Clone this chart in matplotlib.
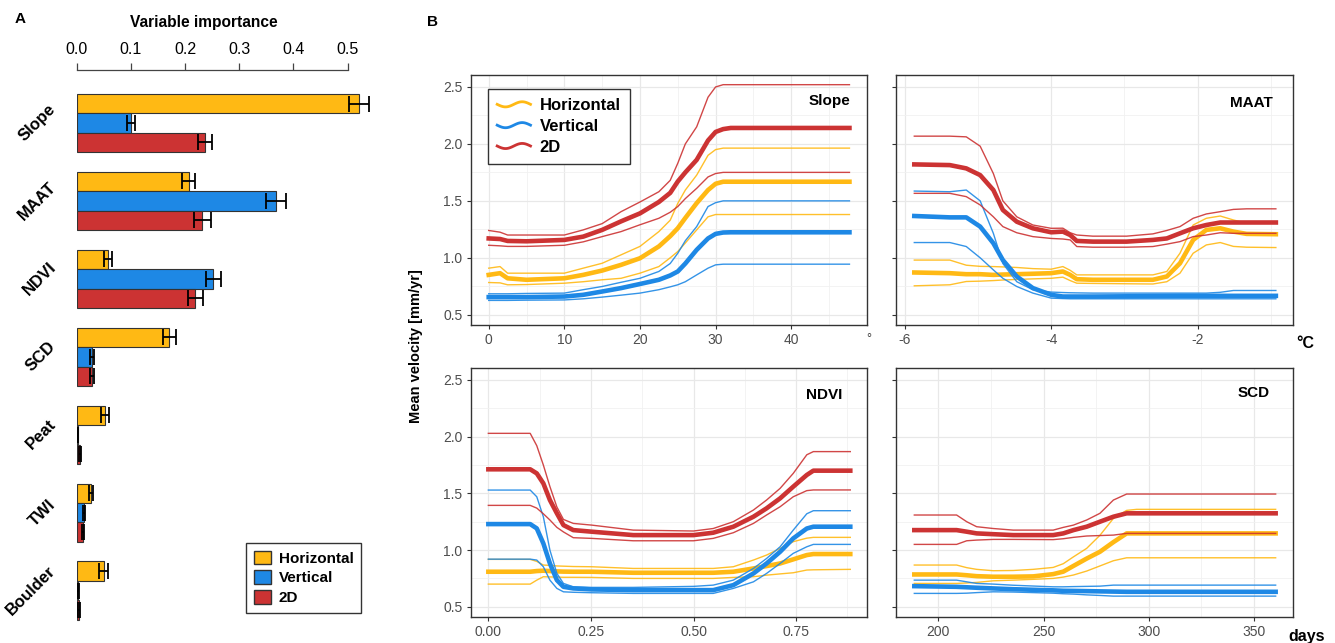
import numpy as np
import matplotlib.pyplot as plt
from matplotlib.lines import Line2D
from matplotlib.patches import Patch
from matplotlib.legend_handler import HandlerLine2D

plt.rcParams['font.family'] = ['Liberation Sans', 'DejaVu Sans']
plt.rcParams['axes.unicode_minus'] = False

W, H = 1335, 643

YELLOW = '#FFB914'
BLUE = '#1E88E5'
RED = '#CC3333'

# ---- panel A: variable importance ----
predictors = ['Slope', 'MAAT', 'NDVI', 'SCD', 'Peat', 'TWI', 'Boulder']
imp_h = [0.521, 0.207, 0.058, 0.171, 0.052, 0.026, 0.050]
imp_v = [0.100, 0.368, 0.252, 0.028, 0.002, 0.013, 0.003]
imp_2d = [0.237, 0.232, 0.219, 0.028, 0.006, 0.012, 0.005]
err_h = [0.019, 0.012, 0.007, 0.012, 0.008, 0.004, 0.008]
err_v = [0.008, 0.019, 0.014, 0.003, 0.001, 0.002, 0.002]
err_2d = [0.013, 0.016, 0.014, 0.003, 0.002, 0.002, 0.002]
imp_ticks = [0.0, 0.1, 0.2, 0.3, 0.4, 0.5]

# ---- panel B: partial dependence (mean, lower, upper) ----
slope_x = [0, 1.5, 2.5, 5, 10, 12.5, 15, 17.5, 20, 22.5, 24, 25, 26, 27.5, 29, 30, 31, 32, 47.7]
slope_h = [0.85, 0.865, 0.82, 0.807, 0.82, 0.85, 0.888, 0.938, 0.996, 1.10, 1.19, 1.26, 1.35, 1.48, 1.595, 1.65, 1.668, 1.668, 1.668]
slope_h_lo = [0.783, 0.78, 0.763, 0.765, 0.777, 0.79, 0.807, 0.82, 0.865, 0.923, 1.0, 1.055, 1.13, 1.245, 1.36, 1.38, 1.38, 1.38, 1.38]
slope_h_hi = [0.909, 0.923, 0.865, 0.865, 0.865, 0.909, 0.952, 1.026, 1.10, 1.23, 1.33, 1.478, 1.595, 1.726, 1.90, 1.95, 1.963, 1.963, 1.963]
slope_v = [0.655, 0.655, 0.655, 0.655, 0.66, 0.675, 0.704, 0.734, 0.77, 0.807, 0.845, 0.88, 0.95, 1.07, 1.17, 1.21, 1.222, 1.224, 1.224]
slope_v_lo = [0.626, 0.626, 0.626, 0.628, 0.63, 0.64, 0.655, 0.672, 0.69, 0.72, 0.745, 0.763, 0.79, 0.85, 0.909, 0.938, 0.944, 0.944, 0.944]
slope_v_hi = [0.684, 0.684, 0.684, 0.687, 0.69, 0.72, 0.748, 0.785, 0.82, 0.88, 0.95, 1.04, 1.15, 1.274, 1.45, 1.484, 1.50, 1.50, 1.50]
slope_2d = [1.17, 1.165, 1.148, 1.145, 1.157, 1.186, 1.245, 1.32, 1.39, 1.49, 1.57, 1.67, 1.75, 1.86, 2.03, 2.105, 2.13, 2.14, 2.14]
slope_2d_lo = [1.11, 1.105, 1.10, 1.10, 1.11, 1.14, 1.186, 1.23, 1.29, 1.347, 1.40, 1.45, 1.52, 1.61, 1.71, 1.74, 1.75, 1.75, 1.75]
slope_2d_hi = [1.24, 1.225, 1.20, 1.20, 1.20, 1.245, 1.30, 1.405, 1.49, 1.58, 1.68, 1.83, 2.0, 2.15, 2.41, 2.5, 2.52, 2.52, 2.52]

maat_x = [-5.87, -5.385, -5.16, -4.97, -4.79, -4.66, -4.47, -4.25, -4.0, -3.84, -3.74, -3.65, -3.43,
          -2.97, -2.61, -2.42, -2.24, -2.06, -1.88, -1.69, -1.51, -1.33, -0.93]
maat_h = [0.871, 0.865, 0.856, 0.856, 0.85, 0.853, 0.856, 0.86, 0.865, 0.88, 0.85, 0.812, 0.807,
          0.807, 0.807, 0.836, 0.952, 1.157, 1.245, 1.259, 1.23, 1.21, 1.207]
maat_h_lo = [0.754, 0.763, 0.792, 0.795, 0.80, 0.805, 0.81, 0.815, 0.82, 0.83, 0.80, 0.777, 0.775,
             0.772, 0.77, 0.79, 0.865, 1.04, 1.113, 1.134, 1.10, 1.093, 1.09]
maat_h_hi = [0.98, 0.98, 0.935, 0.925, 0.923, 0.92, 0.915, 0.905, 0.90, 0.923, 0.89, 0.85, 0.85,
             0.85, 0.85, 0.88, 1.04, 1.288, 1.347, 1.367, 1.332, 1.303, 1.303]
maat_v = [1.367, 1.355, 1.355, 1.274, 1.128, 0.98, 0.836, 0.734, 0.675, 0.66, 0.66, 0.66, 0.66,
          0.662, 0.664, 0.665, 0.666, 0.666, 0.666, 0.666, 0.666, 0.666, 0.666]
maat_v_lo = [1.134, 1.134, 1.099, 1.0, 0.894, 0.82, 0.748, 0.69, 0.646, 0.642, 0.64, 0.64, 0.64,
             0.64, 0.64, 0.64, 0.64, 0.64, 0.64, 0.64, 0.64, 0.64, 0.64]
maat_v_hi = [1.586, 1.58, 1.595, 1.50, 1.215, 0.95, 0.79, 0.72, 0.699, 0.695, 0.693, 0.692, 0.69,
             0.69, 0.69, 0.69, 0.69, 0.69, 0.69, 0.697, 0.713, 0.713, 0.713]
maat_2d = [1.82, 1.814, 1.785, 1.726, 1.595, 1.42, 1.317, 1.259, 1.224, 1.23, 1.20, 1.148, 1.142,
           1.142, 1.157, 1.17, 1.215, 1.259, 1.288, 1.31, 1.31, 1.31, 1.31]
maat_2d_lo = [1.566, 1.566, 1.537, 1.464, 1.36, 1.274, 1.22, 1.186, 1.17, 1.165, 1.157, 1.099, 1.093,
              1.093, 1.099, 1.12, 1.142, 1.186, 1.20, 1.22, 1.215, 1.215, 1.215]
maat_2d_hi = [2.068, 2.068, 2.062, 1.98, 1.74, 1.50, 1.36, 1.288, 1.259, 1.26, 1.22, 1.20, 1.19,
              1.19, 1.21, 1.24, 1.274, 1.347, 1.385, 1.405, 1.425, 1.43, 1.43]

ndvi_x = [0, 0.102, 0.118, 0.134, 0.150, 0.167, 0.183, 0.207, 0.252, 0.353, 0.50, 0.548, 0.597,
          0.646, 0.678, 0.711, 0.743, 0.776, 0.792, 0.882]
ndvi_h = [0.809, 0.809, 0.815, 0.818, 0.815, 0.812, 0.81, 0.809, 0.809, 0.80, 0.80, 0.80, 0.809,
          0.838, 0.859, 0.882, 0.918, 0.956, 0.965, 0.965]
ndvi_h_lo = [0.70, 0.70, 0.735, 0.765, 0.763, 0.762, 0.76, 0.76, 0.759, 0.75, 0.75, 0.75, 0.759,
             0.765, 0.779, 0.79, 0.80, 0.824, 0.826, 0.83]
ndvi_h_hi = [0.918, 0.918, 0.90, 0.868, 0.865, 0.86, 0.858, 0.855, 0.853, 0.838, 0.838, 0.838, 0.853,
             0.912, 0.956, 1.015, 1.074, 1.105, 1.112, 1.112]
ndvi_v = [1.229, 1.229, 1.191, 1.059, 0.882, 0.735, 0.676, 0.662, 0.653, 0.647, 0.647, 0.647, 0.691,
          0.794, 0.882, 0.985, 1.103, 1.19, 1.206, 1.206]
ndvi_v_lo = [0.92, 0.92, 0.912, 0.853, 0.735, 0.662, 0.632, 0.628, 0.624, 0.618, 0.618, 0.618, 0.662,
             0.72, 0.794, 0.882, 0.971, 1.029, 1.05, 1.05]
ndvi_v_hi = [1.529, 1.529, 1.47, 1.294, 1.0, 0.794, 0.706, 0.676, 0.671, 0.671, 0.68, 0.691, 0.735,
             0.838, 0.926, 1.029, 1.176, 1.32, 1.347, 1.347]
ndvi_2d = [1.712, 1.712, 1.676, 1.588, 1.441, 1.324, 1.22, 1.176, 1.162, 1.132, 1.132, 1.153, 1.206,
           1.294, 1.368, 1.456, 1.559, 1.662, 1.70, 1.70]
ndvi_2d_lo = [1.394, 1.394, 1.37, 1.32, 1.265, 1.2, 1.16, 1.109, 1.103, 1.082, 1.082, 1.103, 1.153,
              1.235, 1.309, 1.382, 1.47, 1.524, 1.53, 1.53]
ndvi_2d_hi = [2.029, 2.029, 1.92, 1.75, 1.56, 1.38, 1.27, 1.235, 1.22, 1.176, 1.168, 1.19, 1.25,
              1.353, 1.441, 1.544, 1.676, 1.84, 1.868, 1.868]

scd_x = [188.6, 208.7, 213.5, 218.2, 226.1, 235.6, 245.1, 254.6, 259.4, 264.2, 270.5, 276.8, 283.2,
         289.5, 294.3, 360.3]
scd_h = [0.785, 0.785, 0.778, 0.77, 0.765, 0.765, 0.768, 0.788, 0.81, 0.86, 0.925, 0.985, 1.07,
         1.147, 1.147, 1.147]
scd_h_lo = [0.706, 0.706, 0.71, 0.715, 0.729, 0.735, 0.742, 0.75, 0.762, 0.78, 0.815, 0.86, 0.906,
            0.932, 0.932, 0.932]
scd_h_hi = [0.868, 0.868, 0.845, 0.83, 0.818, 0.82, 0.83, 0.847, 0.88, 0.94, 1.015, 1.13, 1.279,
            1.35, 1.359, 1.359]
scd_v = [0.682, 0.676, 0.672, 0.668, 0.662, 0.655, 0.65, 0.645, 0.641, 0.64, 0.638, 0.636, 0.634,
         0.632, 0.632, 0.632]
scd_v_lo = [0.618, 0.618, 0.62, 0.625, 0.632, 0.63, 0.625, 0.62, 0.615, 0.612, 0.605, 0.6, 0.594,
            0.594, 0.594, 0.594]
scd_v_hi = [0.735, 0.735, 0.72, 0.706, 0.70, 0.69, 0.683, 0.676, 0.676, 0.678, 0.68, 0.682, 0.691,
            0.691, 0.691, 0.691]
scd_2d = [1.176, 1.176, 1.162, 1.147, 1.14, 1.132, 1.132, 1.132, 1.147, 1.176, 1.206, 1.25, 1.294,
          1.324, 1.324, 1.324]
scd_2d_lo = [1.05, 1.05, 1.082, 1.088, 1.094, 1.094, 1.093, 1.092, 1.10, 1.112, 1.124, 1.128, 1.132,
             1.147, 1.147, 1.147]
scd_2d_hi = [1.309, 1.309, 1.25, 1.206, 1.19, 1.176, 1.176, 1.176, 1.20, 1.22, 1.265, 1.324, 1.441,
             1.494, 1.494, 1.494]


def box(x0, y0, x1, y1):
    # pixel box (top-left origin) -> figure fraction rect
    return [x0 / W, 1 - y1 / H, (x1 - x0) / W, (y1 - y0) / H]


fig = plt.figure(figsize=(W / 100, H / 100), dpi=100)

# ================= Panel A =================
axA = fig.add_axes(box(76.7, 70, 380, 625))
pos = np.arange(len(predictors))
bw = 0.25
ekw = dict(ecolor='black', elinewidth=1.3, capsize=5.5, capthick=1.3)
axA.barh(pos - bw, imp_h, height=bw, color=YELLOW, edgecolor='#333333', lw=0.8, xerr=err_h, error_kw=ekw)
axA.barh(pos, imp_v, height=bw, color=BLUE, edgecolor='#333333', lw=0.8, xerr=err_v, error_kw=ekw)
axA.barh(pos + bw, imp_2d, height=bw, color=RED, edgecolor='#333333', lw=0.8, xerr=err_2d, error_kw=ekw)
axA.set_xlim(0, 0.5596)
axA.set_ylim(6.44, -0.68)
axA.xaxis.tick_top()
axA.set_xticks(imp_ticks)
axA.set_xticklabels([f'{t:.1f}' for t in imp_ticks])
axA.tick_params(axis='x', direction='out', length=5, width=0.9, color='#444444', labelsize=11.5, pad=4)
axA.set_yticks(pos)
axA.set_yticklabels(predictors, rotation=45, ha='right', va='center', fontweight='bold', fontsize=12)
axA.tick_params(axis='y', length=0, pad=13)
for s in ['right', 'bottom', 'left']:
    axA.spines[s].set_visible(False)
axA.spines['top'].set_bounds(0, 0.5)
axA.spines['top'].set_color('#444444')
axA.spines['top'].set_linewidth(0.9)

fig.text(204 / W, 1 - 22 / H, 'Variable importance', ha='center', va='center', fontsize=11.2, fontweight='bold')
fig.text(20 / W, 1 - 19 / H, 'A', ha='center', va='center', fontsize=11, fontweight='bold')
fig.text(432 / W, 1 - 22 / H, 'B', ha='center', va='center', fontsize=11, fontweight='bold')

legA = fig.legend(handles=[Patch(facecolor=YELLOW, edgecolor='#333333'),
                           Patch(facecolor=BLUE, edgecolor='#333333'),
                           Patch(facecolor=RED, edgecolor='#333333')],
                  labels=['Horizontal', 'Vertical', '2D'], loc='upper left',
                  bbox_to_anchor=(246 / W, 1 - 543 / H), borderaxespad=0, fancybox=False,
                  edgecolor='#333333', framealpha=1, prop={'weight': 'bold', 'size': 11},
                  handlelength=1.15, handleheight=1.0, handletextpad=0.5, labelspacing=0.3, borderpad=0.5)
legA.get_frame().set_linewidth(1.0)


# ================= Panel B =================
class WaveHandler(HandlerLine2D):
    def create_artists(self, legend, orig_handle, xdescent, ydescent, width, height, fontsize, trans):
        t = np.linspace(0, 1, 40)
        xs = -xdescent + t * width
        ys = -ydescent + height / 2 - 0.22 * height * np.sin(2 * np.pi * t)
        ln = Line2D(xs, ys, color=orig_handle.get_color(), lw=orig_handle.get_linewidth())
        ln.set_transform(trans)
        return [ln]


def setup(ax, xlim, major, minor, labels):
    ax.set_xlim(*xlim)
    ax.set_ylim(0.41, 2.605)
    ax.set_xticks(major)
    ax.set_xticks(minor, minor=True)
    ax.set_yticks([0.5, 1.0, 1.5, 2.0, 2.5])
    ax.set_yticks([0.75, 1.25, 1.75, 2.25], minor=True)
    ax.grid(which='major', color='#E8E8E8', lw=0.9)
    ax.grid(which='minor', color='#F1F1F1', lw=0.6)
    ax.set_axisbelow(True)
    for s in ax.spines.values():
        s.set_color('#333333')
        s.set_linewidth(1.0)
    ax.tick_params(which='major', length=3, width=0.8, color='#333333', labelcolor='#4D4D4D',
                   labelsize=10, pad=3)
    ax.tick_params(which='minor', length=0)
    if not labels:
        ax.tick_params(axis='y', labelleft=False)


def draw(ax, x, series):
    for mean, lo, hi, col in series:
        ax.plot(x, lo, color=col, lw=1.0, alpha=0.9)
        ax.plot(x, hi, color=col, lw=1.0, alpha=0.9)
        ax.plot(x, mean, color=col, lw=3.3)


ax1 = fig.add_axes(box(470.7, 75, 866.7, 325))
ax2 = fig.add_axes(box(896, 75, 1292.7, 325))
ax3 = fig.add_axes(box(470.7, 368, 866.7, 617))
ax4 = fig.add_axes(box(896, 368, 1292.7, 617))

setup(ax1, (-2.38, 49.98), [0, 10, 20, 30, 40], [5, 15, 25, 35, 45], True)
setup(ax2, (-6.12, -0.70), [-6, -4, -2], [-5, -3, -1], False)
setup(ax3, (-0.043, 0.922), [0, 0.25, 0.5, 0.75], [0.125, 0.375, 0.625, 0.875], True)
setup(ax4, (179.9, 368.4), [200, 250, 300, 350], [225, 275, 325], False)
ax3.set_xticklabels(['0.00', '0.25', '0.50', '0.75'])

draw(ax1, slope_x, [(slope_h, slope_h_lo, slope_h_hi, YELLOW), (slope_v, slope_v_lo, slope_v_hi, BLUE),
                    (slope_2d, slope_2d_lo, slope_2d_hi, RED)])
draw(ax2, maat_x, [(maat_h, maat_h_lo, maat_h_hi, YELLOW), (maat_v, maat_v_lo, maat_v_hi, BLUE),
                   (maat_2d, maat_2d_lo, maat_2d_hi, RED)])
draw(ax3, ndvi_x, [(ndvi_h, ndvi_h_lo, ndvi_h_hi, YELLOW), (ndvi_v, ndvi_v_lo, ndvi_v_hi, BLUE),
                   (ndvi_2d, ndvi_2d_lo, ndvi_2d_hi, RED)])
draw(ax4, scd_x, [(scd_h, scd_h_lo, scd_h_hi, YELLOW), (scd_v, scd_v_lo, scd_v_hi, BLUE),
                  (scd_2d, scd_2d_lo, scd_2d_hi, RED)])

for ax, name, tx, ty in [(ax1, 'Slope', 0.958, 0.897), (ax2, 'MAAT', 0.949, 0.889),
                         (ax3, 'NDVI', 0.938, 0.892), (ax4, 'SCD', 0.943, 0.898)]:
    ax.text(tx, ty, name, transform=ax.transAxes, ha='right', va='center', fontsize=11, fontweight='bold')

wave_handles = [Line2D([], [], color=YELLOW, lw=2), Line2D([], [], color=BLUE, lw=2),
                Line2D([], [], color=RED, lw=2)]
legB = ax1.legend(wave_handles, ['Horizontal', 'Vertical', '2D'], loc='upper left',
                  bbox_to_anchor=(488 / W, 1 - 89 / H), bbox_transform=fig.transFigure, borderaxespad=0,
                  handler_map={Line2D: WaveHandler()}, fancybox=False, edgecolor='#333333', framealpha=1,
                  prop={'weight': 'bold', 'size': 12}, handlelength=2.0, handletextpad=0.55,
                  labelspacing=0.35, borderpad=0.55)
legB.get_frame().set_linewidth(1.0)

fig.text(416 / W, 1 - 346 / H, 'Mean velocity [mm/yr]', rotation=90, ha='center', va='center',
         fontsize=10.5, fontweight='bold')
fig.text(869 / W, 1 - 339 / H, '°', ha='center', va='center', fontsize=9, color='#333333')
fig.text(1305 / W, 1 - 343 / H, '°C', ha='center', va='center', fontsize=11.5, fontweight='bold')
fig.text(1307 / W, 1 - 636 / H, 'days', ha='center', va='center', fontsize=11.5, fontweight='bold')

fig.savefig('out.png', dpi=100)
